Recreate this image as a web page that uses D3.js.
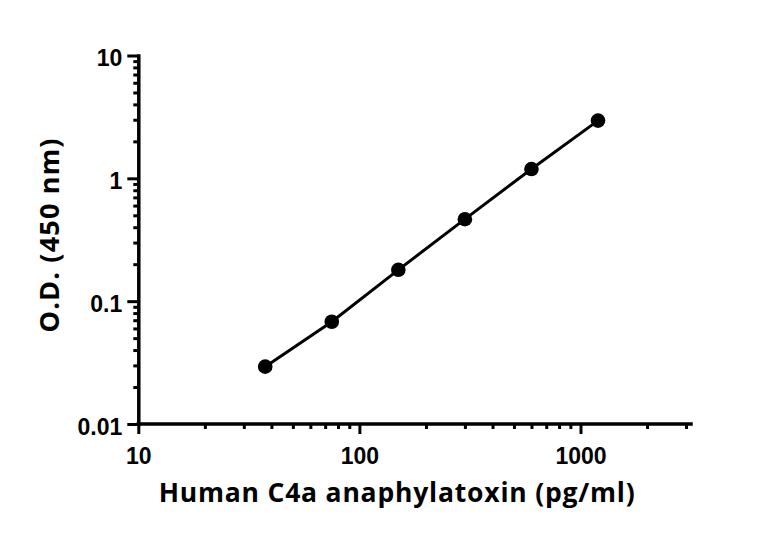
<!DOCTYPE html>
<html>
<head>
<meta charset="utf-8">
<script src="https://cdn.jsdelivr.net/npm/d3@7"></script>
<style>
  body { margin: 0; background: #fff; }
  svg { display: block; }
</style>
</head>
<body>
<div id="chart"></div>
<script>
// data
const concentrations = [37.5, 75, 150, 300, 600, 1200];
const odValues = [0.0293, 0.068, 0.18, 0.465, 1.19, 2.95];

const xMajorTicks = [10, 100, 1000];
const xMinorTicks = [20, 30, 40, 50, 60, 70, 80, 90, 200, 300, 400, 500, 600, 700, 800, 900, 2000, 3000];
const yMajorTicks = [0.01, 0.1, 1, 10];
const yMinorTicks = [0.02, 0.03, 0.04, 0.05, 0.06, 0.07, 0.08, 0.09,
                     0.2, 0.3, 0.4, 0.5, 0.6, 0.7, 0.8, 0.9,
                     2, 3, 4, 5, 6, 7, 8, 9];
const yTickLabels = ["0.01", "0.1", "1", "10"];
const xTickLabels = ["10", "100", "1000"];

const xTitle = "Human C4a anaphylatoxin (pg/ml)";
const yTitle = "O.D. (450 nm)";

// layout
const width = 768, height = 534;
const margin = {top: 55.5, left: 138.3, right: 82, bottom: 110};
const plotW = width - margin.left - margin.right;
const plotH = height - margin.top - margin.bottom;

const svg = d3.select("#chart").append("svg")
    .attr("width", width)
    .attr("height", height);

const g = svg.append("g")
    .attr("transform", "translate(" + margin.left + "," + margin.top + ")");

// scales
const x = d3.scaleLog().domain([10, 3000]).range([0, plotW]);
const y = d3.scaleLog().domain([0.01, 10]).range([plotH, 0]);

const tickFont = "'Liberation Sans', Arial, sans-serif";
const titleFont = "'Open Sans', 'Noto Sans', sans-serif";

// x axis: minor then major
const xMinor = g.append("g")
    .attr("transform", "translate(0," + plotH + ")")
    .call(d3.axisBottom(x).tickValues(xMinorTicks).tickSize(5).tickFormat(""));
xMinor.select(".domain").remove();

const xAxis = g.append("g")
    .attr("transform", "translate(0," + plotH + ")")
    .call(d3.axisBottom(x).tickValues(xMajorTicks).tickSize(10).tickSizeOuter(0)
        .tickPadding(14)
        .tickFormat((d, i) => xTickLabels[i]));

// stretch the x axis line a little past the last minor tick, as in the original
xAxis.select(".domain").attr("d", "M0,0H" + (plotW + 5));

// y axis: minor then major
const yMinor = g.append("g")
    .call(d3.axisLeft(y).tickValues(yMinorTicks).tickSize(5).tickFormat(""));
yMinor.select(".domain").remove();

const yAxis = g.append("g")
    .call(d3.axisLeft(y).tickValues(yMajorTicks).tickSize(11).tickSizeOuter(0)
        .tickPadding(5)
        .tickFormat((d, i) => yTickLabels[i]));

// style axes
g.selectAll(".tick line")
    .attr("stroke", "#000")
    .attr("stroke-width", 3);
g.selectAll(".domain")
    .attr("stroke", "#000")
    .attr("stroke-width", 3.5)
    .attr("stroke-linecap", "square");

xAxis.selectAll("text")
    .attr("font-family", tickFont)
    .attr("font-weight", "bold")
    .attr("font-size", "23px")
    .attr("fill", "#000");

yAxis.selectAll("text")
    .attr("font-family", tickFont)
    .attr("font-weight", "bold")
    .attr("font-size", "23px")
    .attr("dy", "0.45em")
    .attr("fill", "#000");

// connecting line
const pts = concentrations.map((c, i) => ({c: c, od: odValues[i]}));

g.append("path")
    .datum(pts)
    .attr("fill", "none")
    .attr("stroke", "#000")
    .attr("stroke-width", 3)
    .attr("d", d3.line().x(d => x(d.c)).y(d => y(d.od)));

// points
g.selectAll("circle")
    .data(pts)
    .join("circle")
    .attr("cx", d => x(d.c))
    .attr("cy", d => y(d.od))
    .attr("r", 7.3)
    .attr("fill", "#000");

// axis titles
svg.append("text")
    .attr("x", 396.7)
    .attr("y", 501.7)
    .attr("text-anchor", "middle")
    .attr("font-family", titleFont)
    .attr("font-weight", "bold")
    .attr("font-size", "26.5px")
    .attr("textLength", 476)
    .attr("lengthAdjust", "spacing")
    .attr("fill", "#000")
    .text(xTitle);

svg.append("text")
    .attr("transform", "translate(59,235.5) rotate(-90)")
    .attr("text-anchor", "middle")
    .attr("font-family", titleFont)
    .attr("font-weight", "bold")
    .attr("font-size", "27px")
    .attr("textLength", 194)
    .attr("lengthAdjust", "spacing")
    .attr("fill", "#000")
    .text(yTitle);
</script>
</body>
</html>
